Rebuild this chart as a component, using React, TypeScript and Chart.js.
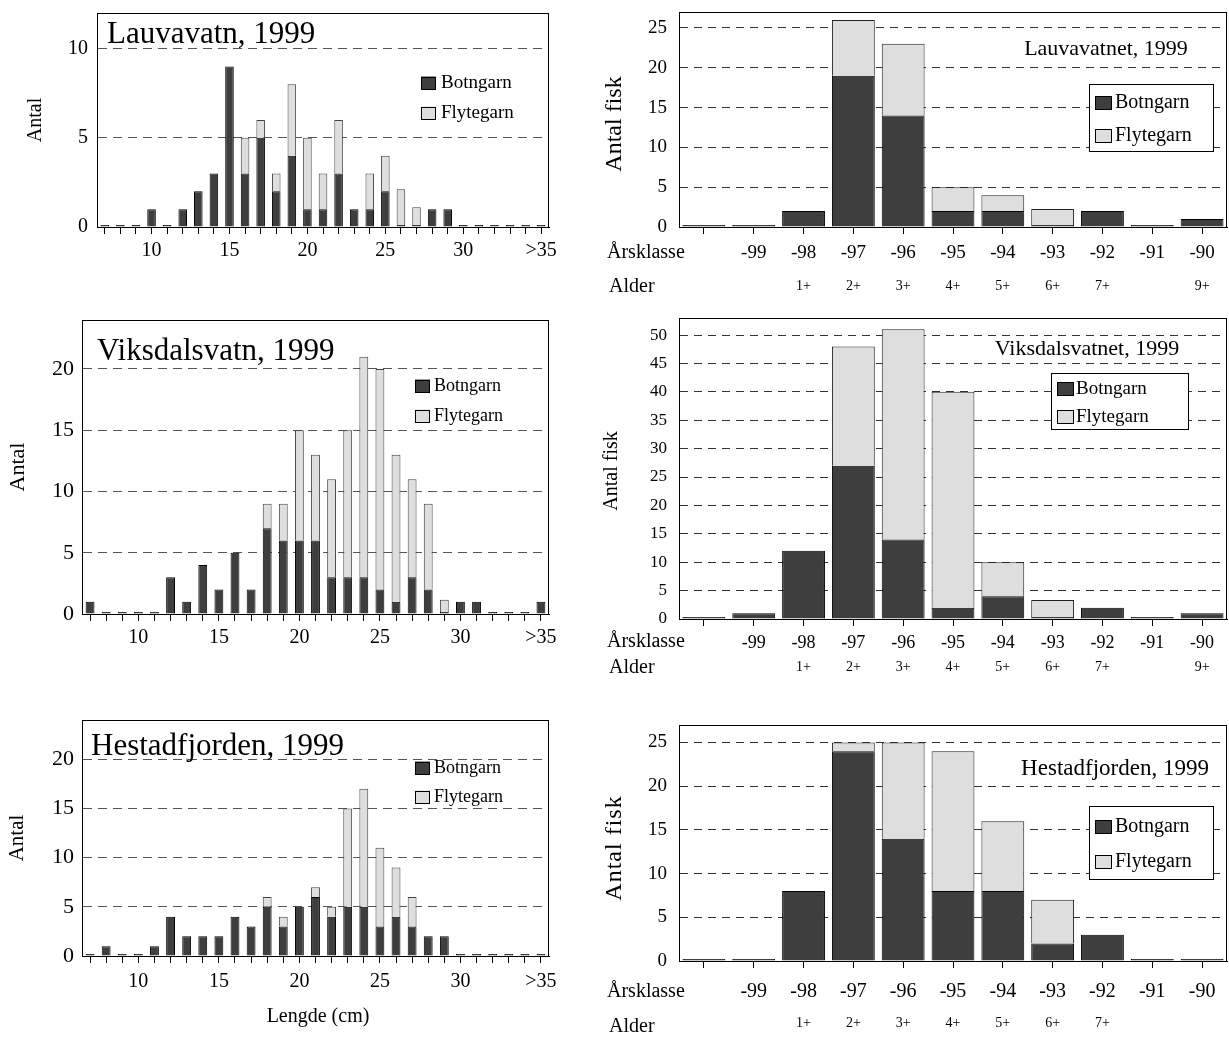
import React, { useEffect, useRef } from "react";
import { Chart, registerables } from "chart.js";

Chart.register(...registerables);

const SERIF = '"Liberation Serif", "Times New Roman", Times, serif';

// ---------------- DATA ----------------
const seriesNames = ["Botngarn", "Flytegarn"];

const lengthClasses = ["7", "8", "9", "10", "11", "12", "13", "14", "15", "16", "17", "18", "19", "20", "21", "22", "23", "24", "25", "26", "27", "28", "29", "30", "31", "32", "33", "34", ">35"];
const lengthTickLabels = ["10", "15", "20", "25", "30", ">35"];

const lauvLenBotn = [0, 0, 0, 1, 0, 1, 2, 3, 9, 3, 5, 2, 4, 1, 1, 3, 1, 1, 2, 0, 0, 1, 1, 0, 0, 0, 0, 0, 0];
const lauvLenFlyt = [0, 0, 0, 0, 0, 0, 0, 0, 0, 2, 1, 1, 4, 4, 2, 3, 0, 2, 2, 2, 1, 0, 0, 0, 0, 0, 0, 0, 0];

const viksLenBotn = [1, 0, 0, 0, 0, 3, 1, 4, 2, 5, 2, 7, 6, 6, 6, 3, 3, 3, 2, 1, 3, 2, 0, 1, 1, 0, 0, 0, 1];
const viksLenFlyt = [0, 0, 0, 0, 0, 0, 0, 0, 0, 0, 0, 2, 3, 9, 7, 8, 12, 18, 18, 12, 8, 7, 1, 0, 0, 0, 0, 0, 0];

const hestLenBotn = [0, 1, 0, 0, 1, 4, 2, 2, 2, 4, 3, 5, 3, 5, 6, 4, 5, 5, 3, 4, 3, 2, 2, 0, 0, 0, 0, 0, 0];
const hestLenFlyt = [0, 0, 0, 0, 0, 0, 0, 0, 0, 0, 0, 1, 1, 0, 1, 1, 10, 12, 8, 5, 3, 0, 0, 0, 0, 0, 0, 0, 0];

const yearClasses = ["", "-99", "-98", "-97", "-96", "-95", "-94", "-93", "-92", "-91", "-90"];
const agesLauv = ["", "", "1+", "2+", "3+", "4+", "5+", "6+", "7+", "", "9+"];
const agesViks = ["", "", "1+", "2+", "3+", "4+", "5+", "6+", "7+", "", "9+"];
const agesHest = ["", "", "1+", "2+", "3+", "4+", "5+", "6+", "7+", "", ""];

const lauvAgeBotn = [0, 0, 2, 19, 14, 2, 2, 0, 2, 0, 1];
const lauvAgeFlyt = [0, 0, 0, 7, 9, 3, 2, 2, 0, 0, 0];
const viksAgeBotn = [0, 1, 12, 27, 14, 2, 4, 0, 2, 0, 1];
const viksAgeFlyt = [0, 0, 0, 21, 37, 38, 6, 3, 0, 0, 0];
const hestAgeBotn = [0, 0, 8, 24, 14, 8, 8, 2, 3, 0, 0];
const hestAgeFlyt = [0, 0, 0, 1, 11, 16, 8, 5, 0, 0, 0];

const yTicks12 = [0, 5, 10];
const yTicks24 = [0, 5, 10, 15, 20];
const yTicks27 = [0, 5, 10, 15, 20, 25];
const yTicks53 = [0, 5, 10, 15, 20, 25, 30, 35, 40, 45, 50];

// ---------------- STYLE ----------------
const DARK = "#3e3e3e";
const LIGHT = "#dedede";

const zeroPad = (s: any) => {
  s.paddingLeft = 0;
  s.paddingRight = 0;
  s.paddingTop = 0;
  s.paddingBottom = 0;
};

const decoPlugin = {
  id: "deco",
  afterDraw(chart: any, _args: any, o: any) {
    const ctx = chart.ctx as CanvasRenderingContext2D;
    const a = chart.chartArea;
    const ox = o.ox || 0;
    const oy = o.oy || 0;
    ctx.save();
    // frame
    ctx.setLineDash([]);
    ctx.strokeStyle = "#000";
    ctx.lineWidth = 1;
    const l = Math.round(a.left) + 0.5;
    const t = Math.round(a.top) + 0.5;
    const r = Math.round(a.right) - 0.5;
    const b = Math.round(a.bottom) + 0.5;
    ctx.strokeRect(l, t, r - l, b - t);

    // legend
    const lg = o.legend;
    if (lg) {
      if (lg.box) {
        const [x1, y1, x2, y2] = lg.box;
        ctx.fillStyle = "#fff";
        ctx.fillRect(x1 - ox, y1 - oy, x2 - x1, y2 - y1);
        ctx.strokeStyle = "#000";
        ctx.strokeRect(Math.round(x1 - ox) + 0.5, Math.round(y1 - oy) + 0.5, Math.round(x2 - x1), Math.round(y2 - y1));
      }
      const cols = [DARK, LIGHT];
      seriesNames.forEach((name, i) => {
        const cy = lg.ys[i] - oy;
        const sx = lg.sx - ox;
        ctx.fillStyle = cols[i];
        ctx.fillRect(sx, cy - lg.sh / 2, lg.sw, lg.sh);
        ctx.strokeStyle = "#000";
        ctx.strokeRect(Math.round(sx) + 0.5, Math.round(cy - lg.sh / 2) + 0.5, lg.sw - 1, lg.sh - 1);
        ctx.fillStyle = "#000";
        ctx.font = `${lg.size}px ${SERIF}`;
        ctx.textAlign = "left";
        ctx.textBaseline = "middle";
        ctx.fillText(name, lg.tx - ox, cy);
      });
    }

    // free texts
    (o.texts || []).forEach((tx: any) => {
      ctx.save();
      ctx.fillStyle = "#000";
      ctx.font = `${tx.size}px ${SERIF}`;
      ctx.textAlign = tx.align || "left";
      ctx.textBaseline = tx.baseline || "middle";
      if (tx.spacing) (ctx as any).letterSpacing = `${tx.spacing}px`;
      if (tx.rot) {
        ctx.translate(tx.x - ox, tx.y - oy);
        ctx.rotate(-Math.PI / 2);
        ctx.textAlign = "center";
        ctx.textBaseline = "middle";
        ctx.fillText(tx.t, 0, 0);
      } else {
        ctx.fillText(tx.t, tx.x - ox, tx.y - oy);
      }
      ctx.restore();
    });
    ctx.restore();
  },
};

type Panel = {
  x: number;
  y: number;
  w: number;
  h: number;
  make: () => any;
};

function leftPanel(p: any): Panel {
  const { cx, cy, cw, ch, L, T, R, B } = p;
  const xH = 44;
  const yW = L - cx;
  const padT = T - cy;
  const padR = cx + cw - R;
  const padB = cy + ch - B - xH;
  return {
    x: cx,
    y: cy,
    w: cw,
    h: ch,
    make: () => ({
      type: "bar",
      data: {
        labels: lengthClasses,
        datasets: [
          { label: seriesNames[0], data: p.botn, backgroundColor: DARK, borderColor: "#000", borderWidth: 1, minBarLength: 2, barPercentage: 0.55, categoryPercentage: 1, stack: "s" },
          { label: seriesNames[1], data: p.flyt, backgroundColor: LIGHT, borderColor: "#444", borderWidth: 1, barPercentage: 0.55, categoryPercentage: 1, stack: "s" },
        ],
      },
      options: {
        responsive: false,
        animation: false,
        devicePixelRatio: 1,
        layout: { padding: { left: 0, top: padT, right: padR, bottom: padB } },
        plugins: {
          legend: { display: false },
          tooltip: { enabled: false },
          deco: { ox: cx, oy: cy, legend: p.legend, texts: p.texts },
        },
        scales: {
          x: {
            type: "category",
            stacked: true,
            offset: true,
            weight: 1,
            grid: { display: true, drawOnChartArea: false, drawTicks: true, tickLength: 7, offset: false, tickColor: "#000", tickWidth: 1 },
            border: { display: true, color: "#000" },
            ticks: {
              autoSkip: false,
              maxRotation: 0,
              minRotation: 0,
              padding: p.xPad,
              color: "#000",
              font: { family: SERIF, size: 20 },
              callback: (_v: any, i: number) => (lengthTickLabels.includes(lengthClasses[i]) ? lengthClasses[i] : ""),
            },
            afterFit: (s: any) => {
              s.height = xH;
              zeroPad(s);
            },
          },
          y: {
            type: "linear",
            stacked: true,
            min: 0,
            max: p.yMax,
            grid: {
              color: (c: any) => (c.tick && c.tick.value === 0 ? "rgba(0,0,0,0)" : "#555"),
              lineWidth: 1,
              drawTicks: false,
              borderDash: [9, 6],
            },
            border: { display: true, color: "#000", dash: [9, 6] },
            ticks: { padding: p.yPad, color: "#000", font: { family: SERIF, size: p.yFont } },
            afterBuildTicks: (s: any) => {
              s.ticks = p.yTicks.map((v: number) => ({ value: v }));
            },
            afterFit: (s: any) => {
              s.width = yW;
              zeroPad(s);
            },
          },
        },
      },
      plugins: [decoPlugin],
    }),
  };
}

function rightPanel(p: any): Panel {
  const { cx, cy, cw, ch, L, T, R, B, xH, x2H } = p;
  const yW = L - cx;
  const padT = T - cy;
  const padR = cx + cw - R;
  const padB = cy + ch - B - xH - x2H;
  return {
    x: cx,
    y: cy,
    w: cw,
    h: ch,
    make: () => ({
      type: "bar",
      data: {
        labels: yearClasses,
        datasets: [
          { label: seriesNames[0], data: p.botn, backgroundColor: DARK, borderColor: "#000", borderWidth: 1, minBarLength: 2, barPercentage: 0.86, categoryPercentage: 1, stack: "s" },
          { label: seriesNames[1], data: p.flyt, backgroundColor: LIGHT, borderColor: "#222", borderWidth: 1, barPercentage: 0.86, categoryPercentage: 1, stack: "s" },
        ],
      },
      options: {
        responsive: false,
        animation: false,
        devicePixelRatio: 1,
        layout: { padding: { left: 0, top: padT, right: padR, bottom: padB } },
        plugins: {
          legend: { display: false },
          tooltip: { enabled: false },
          deco: { ox: cx, oy: cy, legend: p.legend, texts: p.texts },
        },
        scales: {
          x: {
            type: "category",
            stacked: true,
            offset: true,
            weight: 1,
            grid: { display: true, drawOnChartArea: false, drawTicks: true, tickLength: 7, offset: false, tickColor: "#000", tickWidth: 1 },
            border: { display: true, color: "#000" },
            ticks: { autoSkip: false, maxRotation: 0, minRotation: 0, padding: p.xPad, color: "#000", font: { family: SERIF, size: p.xFont } },
            afterFit: (s: any) => {
              s.height = xH;
              zeroPad(s);
            },
          },
          x2: {
            type: "category",
            labels: p.ages,
            position: "bottom",
            offset: true,
            weight: 2,
            grid: { display: false, drawTicks: false, drawOnChartArea: false },
            border: { display: false },
            ticks: { autoSkip: false, maxRotation: 0, minRotation: 0, padding: p.x2Pad, color: "#000", font: { family: SERIF, size: 14 } },
            afterFit: (s: any) => {
              s.height = x2H;
              zeroPad(s);
            },
          },
          y: {
            type: "linear",
            stacked: true,
            min: 0,
            max: p.yMax,
            grid: {
              color: (c: any) => (c.tick && c.tick.value === 0 ? "rgba(0,0,0,0)" : "#333"),
              lineWidth: 1,
              drawTicks: false,
              borderDash: [8, 6],
            },
            border: { display: true, color: "#000", dash: [8, 6] },
            ticks: { padding: 12, color: "#000", font: { family: SERIF, size: p.yFont } },
            afterBuildTicks: (s: any) => {
              s.ticks = p.yTicks.map((v: number) => ({ value: v }));
            },
            afterFit: (s: any) => {
              s.width = yW;
              zeroPad(s);
            },
          },
        },
      },
      plugins: [decoPlugin],
    }),
  };
}

const panels: Panel[] = [
  leftPanel({
    cx: 0, cy: 0, cw: 600, ch: 300, L: 97, T: 13, R: 549, B: 227,
    botn: lauvLenBotn, flyt: lauvLenFlyt, yMax: 12, yTicks: yTicks12, yFont: 20, yPad: 9, xPad: 5,
    legend: { sx: 421, sw: 15, sh: 13, ys: [83, 113], tx: 441, size: 19 },
    texts: [
      { t: "Lauvavatn, 1999", x: 107, y: 43, size: 31, baseline: "alphabetic" },
      { t: "Antal", x: 36, y: 120, size: 20, rot: true },
    ],
  }),
  leftPanel({
    cx: 0, cy: 300, cw: 600, ch: 360, L: 82, T: 320, R: 549, B: 614,
    botn: viksLenBotn, flyt: viksLenFlyt, yMax: 24, yTicks: yTicks24, yFont: 22, yPad: 8, xPad: 5,
    legend: { sx: 415, sw: 15, sh: 13, ys: [386, 416], tx: 434, size: 18 },
    texts: [
      { t: "Viksdalsvatn, 1999", x: 97, y: 360, size: 31, baseline: "alphabetic" },
      { t: "Antal", x: 18, y: 467, size: 22, rot: true },
    ],
  }),
  leftPanel({
    cx: 0, cy: 690, cw: 600, ch: 347, L: 82, T: 720, R: 549, B: 956,
    botn: hestLenBotn, flyt: hestLenFlyt, yMax: 24, yTicks: yTicks24, yFont: 22, yPad: 8, xPad: 7,
    legend: { sx: 415, sw: 15, sh: 13, ys: [768, 797], tx: 434, size: 18 },
    texts: [
      { t: "Hestadfjorden, 1999", x: 91, y: 755, size: 31, baseline: "alphabetic" },
      { t: "Antal", x: 17, y: 838, size: 21, rot: true },
      { t: "Lengde (cm)", x: 318, y: 1017, size: 20, align: "center" },
    ],
  }),
  rightPanel({
    cx: 590, cy: 0, cw: 639, ch: 310, L: 679, T: 12, R: 1227, B: 227, xH: 38, x2H: 30,
    botn: lauvAgeBotn, flyt: lauvAgeFlyt, ages: agesLauv, yMax: 27, yTicks: yTicks27, yFont: 19, xFont: 19, xPad: 8, x2Pad: 13,
    legend: { box: [1089, 84, 1213, 151], sx: 1095, sw: 17, sh: 14, ys: [103, 136], tx: 1115, size: 20 },
    texts: [
      { t: "Lauvavatnet, 1999", x: 1106, y: 55, size: 22, align: "center", baseline: "alphabetic" },
      { t: "Antal fisk", x: 615, y: 124, size: 24, rot: true },
      { t: "Årsklasse", x: 607, y: 253, size: 20 },
      { t: "Alder", x: 609, y: 287, size: 20 },
    ],
  }),
  rightPanel({
    cx: 590, cy: 300, cw: 639, ch: 390, L: 679, T: 318, R: 1227, B: 619, xH: 36, x2H: 28,
    botn: viksAgeBotn, flyt: viksAgeFlyt, ages: agesViks, yMax: 53, yTicks: yTicks53, yFont: 17, xFont: 18, xPad: 6, x2Pad: 4,
    legend: { box: [1051, 373, 1188, 429], sx: 1057, sw: 17, sh: 14, ys: [389, 417], tx: 1076, size: 19 },
    texts: [
      { t: "Viksdalsvatnet, 1999", x: 1087, y: 355, size: 22, align: "center", baseline: "alphabetic" },
      { t: "Antal fisk", x: 612, y: 471, size: 20, rot: true },
      { t: "Årsklasse", x: 607, y: 642, size: 20 },
      { t: "Alder", x: 609, y: 668, size: 20 },
    ],
  }),
  rightPanel({
    cx: 590, cy: 690, cw: 639, ch: 347, L: 679, T: 725, R: 1227, B: 961, xH: 44, x2H: 28,
    botn: hestAgeBotn, flyt: hestAgeFlyt, ages: agesHest, yMax: 27, yTicks: yTicks27, yFont: 19, xFont: 20, xPad: 12, x2Pad: 10,
    legend: { box: [1089, 806, 1213, 879], sx: 1095, sw: 17, sh: 14, ys: [827, 862], tx: 1115, size: 20 },
    texts: [
      { t: "Hestadfjorden, 1999", x: 1115, y: 775, size: 23, align: "center", baseline: "alphabetic" },
      { t: "Antal fisk", x: 615, y: 848, size: 24, rot: true, spacing: 1 },
      { t: "Årsklasse", x: 607, y: 992, size: 20 },
      { t: "Alder", x: 609, y: 1027, size: 20 },
    ],
  }),
];

function PanelCanvas({ panel }: { panel: Panel }) {
  const ref = useRef<HTMLCanvasElement | null>(null);
  useEffect(() => {
    if (!ref.current) return;
    const chart = new Chart(ref.current, panel.make());
    return () => chart.destroy();
  }, [panel]);
  return (
    <canvas
      ref={ref}
      width={panel.w}
      height={panel.h}
      style={{ position: "absolute", left: panel.x, top: panel.y, width: panel.w, height: panel.h }}
    />
  );
}

export default function App() {
  return (
    <div style={{ position: "absolute", left: 0, top: 0, width: 1229, height: 1037, background: "#fff", overflow: "hidden" }}>
      {panels.map((p, i) => (
        <PanelCanvas key={i} panel={p} />
      ))}
    </div>
  );
}
